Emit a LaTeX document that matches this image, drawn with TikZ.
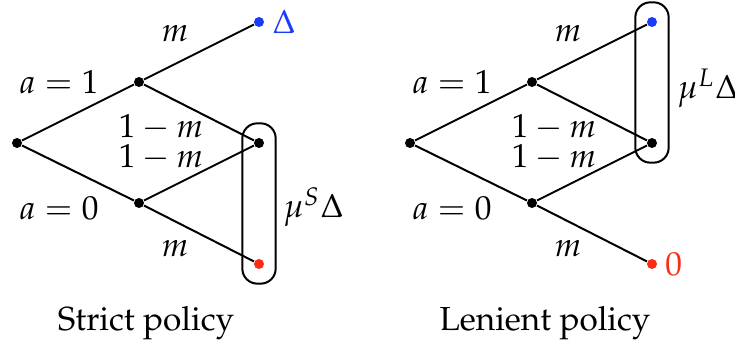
\documentclass[tikz,border=0pt]{standalone}
\usepackage[T1]{fontenc}
\usepackage{mathpazo}
\usetikzlibrary{fit}
\definecolor{termblue}{RGB}{25,60,250}
\definecolor{termred}{RGB}{250,45,20}
\tikzset{
  dot/.style={circle,fill,inner sep=0pt,minimum size=3pt},
  infoset/.style={draw,semithick,rounded corners=4.5pt,inner xsep=3.3pt,inner ysep=4.2pt},
  edge/.style={semithick}
}
\begin{document}
\begin{tikzpicture}[x=0.3pt,y=-0.3pt]
\useasboundingbox (0,0) rectangle (735,347);
% two trees, shifted by 393px
\foreach \t/\dx in {S/0,L/393}{
  \node[dot] (r\t) at (17+\dx,143) {};
  \node[dot] (u\t) at (139+\dx,82) {};
  \node[dot] (d\t) at (139+\dx,203) {};
  \node[dot] (mid\t) at (259+\dx,143) {};
  \draw[edge] (r\t) -- (u\t);
  \draw[edge] (r\t) -- (d\t);
  \draw[edge] (u\t) -- (mid\t);
  \draw[edge] (d\t) -- (mid\t);
  \node (a1\t) at (59+\dx,82) {$a=1$};
  \node (a0\t) at (59+\dx,208) {$a=0$};
  \node (mt\t) at (175+\dx,34) {$m$};
  \node (mb\t) at (175+\dx,249) {$m$};
  \node (qu\t) at (161+\dx,127) {$1-m$};
  \node (qd\t) at (161+\dx,157) {$1-m$};
}
% strict policy
\node[dot,termblue] (topS) at (259,22) {};
\node[dot,termred] (botS) at (259,264) {};
\draw[edge] (uS) -- (topS);
\draw[edge] (dS) -- (botS);
\node[termblue,right=0.5pt] (payS) at (topS) {$\Delta$};
\node[infoset,fit=(midS)(botS)] (setS) {};
\node[anchor=west] (muS) at (272,207) {$\mu^S\Delta$};
\node (capS) at (146,323) {Strict policy};
% lenient policy
\node[dot,termblue] (topL) at (652,22) {};
\node[dot,termred] (botL) at (652,264) {};
\draw[edge] (uL) -- (topL);
\draw[edge] (dL) -- (botL);
\node[termred,right=0.5pt] (payL) at (botL) {$0$};
\node[infoset,fit=(topL)(midL)] (setL) {};
\node[anchor=west] (muL) at (666,88) {$\mu^L\Delta$};
\node (capL) at (545,323) {Lenient policy};
\end{tikzpicture}
\end{document}
